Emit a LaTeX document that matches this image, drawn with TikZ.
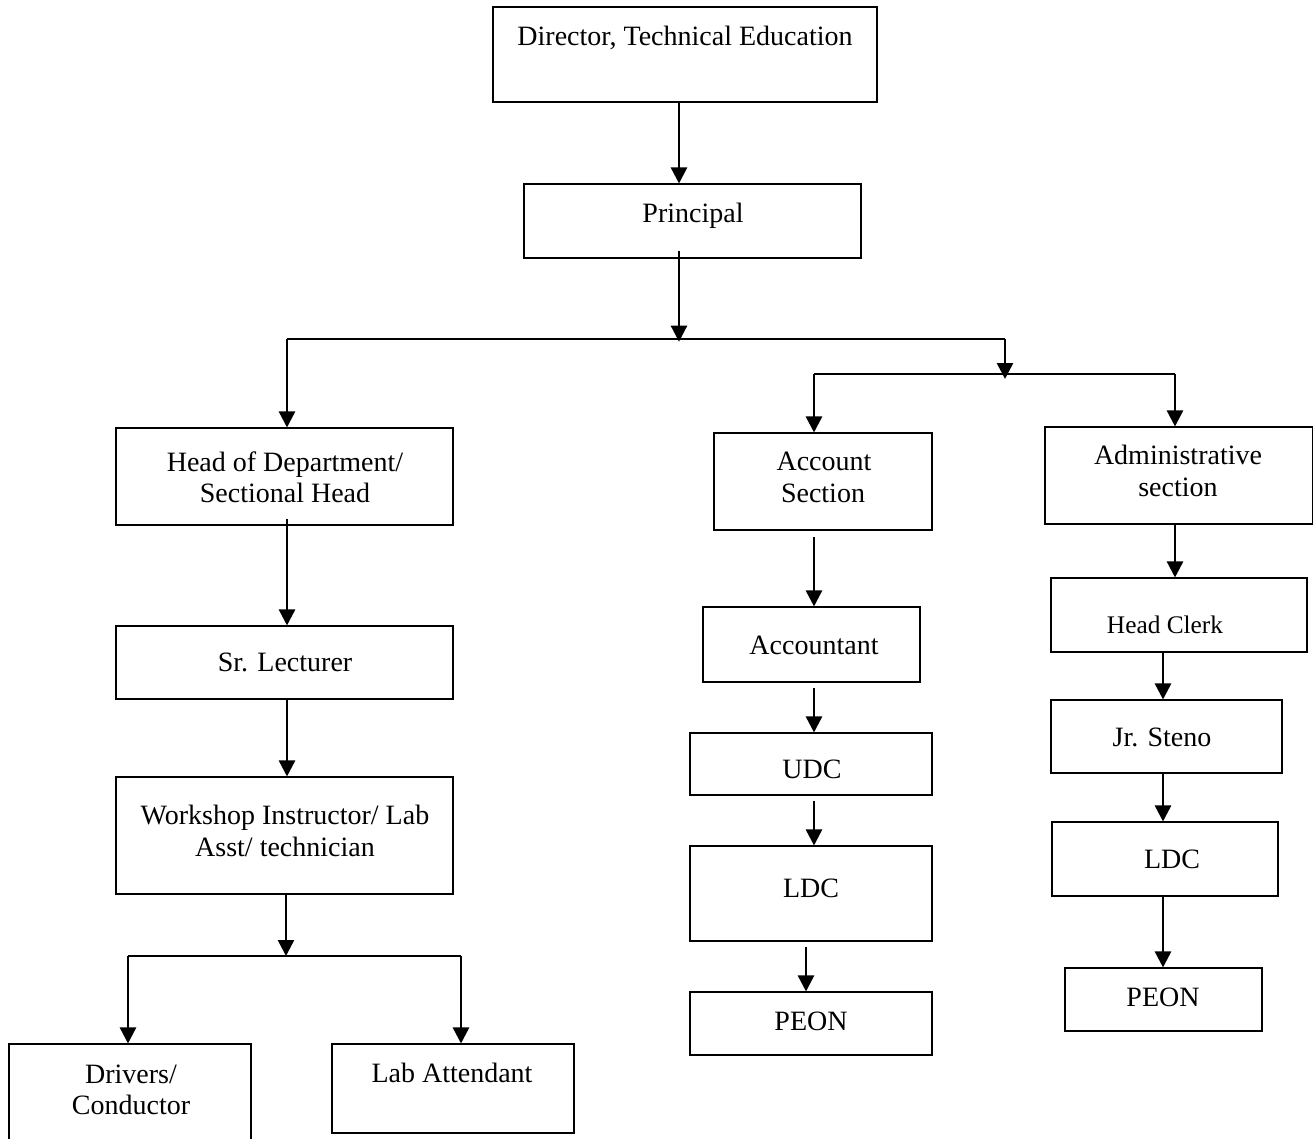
\documentclass[tikz,border=0pt]{standalone}
\usepackage{fontspec}
\setmainfont{Liberation Serif}
\usetikzlibrary{arrows.meta,fit}
\begin{document}
\begin{tikzpicture}[x=0.75pt,y=-0.75pt,
  box/.style={draw,line width=0.8pt,inner sep=0pt},
  conn/.style={line width=1.9pt},
  arr/.style={line width=1.9pt,-{Triangle[width=12pt,length=12pt]}},
  lbl/.style={anchor=base,align=center,inner sep=0pt,font=\fontsize{21}{24}\selectfont},
  lbls/.style={anchor=base,align=center,inner sep=0pt,font=\fontsize{19}{22}\selectfont}]
\useasboundingbox (0,0) rectangle (1314,1139);
% boxes
\node[box,fit={(493,7) (877,102)}] (dir) {};
\node[box,fit={(524,184) (861,258)}] (prin) {};
\node[box,fit={(116,428) (453,525)}] (hod) {};
\node[box,fit={(116,626) (453,699)}] (sr) {};
\node[box,fit={(116,777) (453,894)}] (ws) {};
\node[box,fit={(9,1044) (251,1150)}] (drv) {};
\node[box,fit={(332,1044) (574,1133)}] (lab) {};
\node[box,fit={(714,433) (932,530)}] (acc) {};
\node[box,fit={(703,607) (920,682)}] (acct) {};
\node[box,fit={(690,733) (932,795)}] (udc) {};
\node[box,fit={(690,846) (932,941)}] (ldca) {};
\node[box,fit={(690,992) (932,1055)}] (peona) {};
\node[box,fit={(1045,427) (1312.5,524)}] (adm) {};
\node[box,fit={(1051,578) (1307,652)}] (hc) {};
\node[box,fit={(1051,700) (1282,773)}] (js) {};
\node[box,fit={(1052,822) (1278,896)}] (ldcb) {};
\node[box,fit={(1065,968) (1262,1031)}] (peonb) {};
% texts
\node[lbl] (tdir) at (685,45) {Director, Technical Education};
\node[lbl] (tprin) at (693,222) {Principal};
\node[lbl] (thod1) at (285,471) {Head of Department/};
\node[lbl] (thod2) at (285,502) {Sectional Head};
\node[lbl] (tsr) at (285,671) {Sr. Lecturer};
\node[lbl] (tws1) at (285,824) {Workshop Instructor/ Lab};
\node[lbl] (tws2) at (285,856) {Asst/ technician};
\node[lbl] (tdrv1) at (131,1083) {Drivers/};
\node[lbl] (tdrv2) at (131,1114) {Conductor};
\node[lbl] (tlab) at (452,1082) {Lab Attendant};
\node[lbl] (tacc1) at (824,470) {Account};
\node[lbl] (tacc2) at (823,502) {Section};
\node[lbl] (tacct) at (814,654) {Accountant};
\node[lbl] (tudc) at (812,778) {UDC};
\node[lbl] (tldca) at (811,897) {LDC};
\node[lbl] (tpeona) at (811,1030) {PEON};
\node[lbl] (tadm1) at (1178,464) {Administrative};
\node[lbl] (tadm2) at (1178,496) {section};
\node[lbls] (thc) at (1165,633) {Head Clerk};
\node[lbl] (tjs) at (1162,746) {Jr. Steno};
\node[lbl] (tldcb) at (1172,868) {LDC};
\node[lbl] (tpeonb) at (1163,1006) {PEON};
% junction coordinates
\coordinate (j0) at (679,339);
\coordinate (bL) at (287,339);
\coordinate (bR) at (1005,339);
\coordinate (j1) at (1005,379);
\coordinate (acL) at (814,374);
\coordinate (acR) at (1175,374);
\coordinate (dM) at (286,956);
\coordinate (dL) at (128,956);
\coordinate (dR) at (461,956);
\coordinate (cB) at (806,0);
\coordinate (cC) at (1163,0);
% connectors
\draw[arr] (dir.south -| j0) -- (prin.north -| j0);
\draw[arr] ([yshift=6]prin.south -| j0) -- ([yshift=-2]j0);
\draw[conn] (bL) -- (bR);
\draw[arr] (bL) -- (hod.north -| bL);
\draw[arr] (bR) -- (j1);
\draw[conn] (acL) -- (acR);
\draw[arr] (acL) -- (acc.north -| acL);
\draw[arr] (acR) -- (adm.north -| acR);
% left column
\draw[arr] ([yshift=5]hod.south -| bL) -- (sr.north -| bL);
\draw[arr] (sr.south -| bL) -- (ws.north -| bL);
\draw[arr] (ws.south -| dM) -- (dM);
\draw[conn] (dL) -- (dR);
\draw[arr] (dL) -- (drv.north -| dL);
\draw[arr] (dR) -- (lab.north -| dR);
% account column
\draw[arr] ([yshift=-5]acc.south -| acL) -- (acct.north -| acL);
\draw[arr] ([yshift=-4]acct.south -| acL) -- (udc.north -| acL);
\draw[arr] ([yshift=-4]udc.south -| acL) -- (ldca.north -| acL);
\draw[arr] ([yshift=-4]ldca.south -| cB) -- (peona.north -| cB);
% admin column
\draw[arr] (adm.south -| acR) -- (hc.north -| acR);
\draw[arr] (hc.south -| cC) -- (js.north -| cC);
\draw[arr] (js.south -| cC) -- (ldcb.north -| cC);
\draw[arr] (ldcb.south -| cC) -- (peonb.north -| cC);
\end{tikzpicture}
\end{document}
